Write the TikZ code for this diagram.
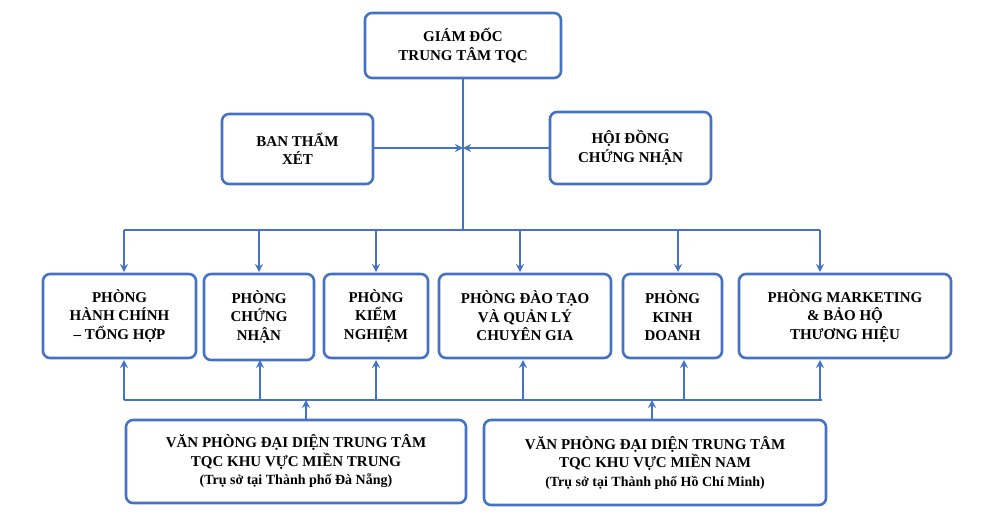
\documentclass[tikz,border=0pt]{standalone}
\usepackage{fontspec}
\setmainfont{Liberation Serif}
\usetikzlibrary{arrows.meta}
\begin{document}
\begin{tikzpicture}[x=1pt,y=-1pt,
 box/.style={draw=ln,text=black,line width=2.6pt,rounded corners=7pt,align=center,font=\bfseries\fontsize{15}{18.5}\selectfont,inner sep=0pt},
 ln/.style={draw=ln,line width=2.4pt},
 ar/.style={draw=ln,line width=2.2pt,-{Stealth[length=8pt,width=8pt]}}]
\definecolor{ln}{HTML}{4472C4}
\useasboundingbox (0,0) rectangle (996,528);
\newcommand{\bx}[6]{\node[box,minimum width=#4-#2,minimum height=#5-#3] (#1) at ({(#2+#4)/2},{(#3+#5)/2}) {#6};}
\bx{gd}{365}{13}{561}{78}{GIÁM ĐỐC\\TRUNG TÂM TQC}
\bx{bt}{222}{114}{373}{184}{BAN THẨM\\XÉT}
\bx{hd}{550}{112}{711}{184}{HỘI ĐỒNG\\CHỨNG NHẬN}
\bx{p1}{43}{274}{196}{358}{PHÒNG\\HÀNH CHÍNH\\– TỔNG HỢP}
\bx{p2}{204}{274}{314}{360}{PHÒNG\\CHỨNG\\NHẬN}
\bx{p3}{324}{274}{428}{358}{PHÒNG\\KIỂM\\NGHIỆM}
\bx{p4}{439}{274}{611}{358}{PHÒNG ĐÀO TẠO\\VÀ QUẢN LÝ\\CHUYÊN GIA}
\bx{p5}{623}{274}{722}{358}{PHÒNG\\KINH\\DOANH}
\bx{p6}{739}{274}{951}{358}{PHÒNG MARKETING\\\& BẢO HỘ\\THƯƠNG HIỆU}
\bx{v1}{126}{420}{466}{503}{VĂN PHÒNG ĐẠI DIỆN TRUNG TÂM\\TQC KHU VỰC MIỀN TRUNG\\{\fontsize{14}{17}\selectfont(Trụ sở tại Thành phố Đà Nẵng)}}
\bx{v2}{484}{420}{826}{505}{VĂN PHÒNG ĐẠI DIỆN TRUNG TÂM\\TQC KHU VỰC MIỀN NAM\\{\fontsize{14}{17}\selectfont(Trụ sở tại Thành phố Hồ Chí Minh)}}
\coordinate (tj) at (463,148);
\draw[ln] (gd.south -| tj) -- (463,230);
\draw[ar] (bt.east |- tj) -- (tj);
\draw[ar] (hd.west |- tj) -- (tj);
\draw[ln] (124,230) -- (820,230);
\draw[ln] (124,400) -- (822,400);
\foreach \x in {124,259,376,520,678,820}{
 \draw[ar] (\x,230) -- (\x,272);
}
\foreach \x in {124,260,376,523,684,820}{
 \draw[ar] (\x,400) -- (\x,360);
}
\draw[ar] (306,420) -- (306,400);
\draw[ar] (652,420) -- (652,400);
\end{tikzpicture}
\end{document}
